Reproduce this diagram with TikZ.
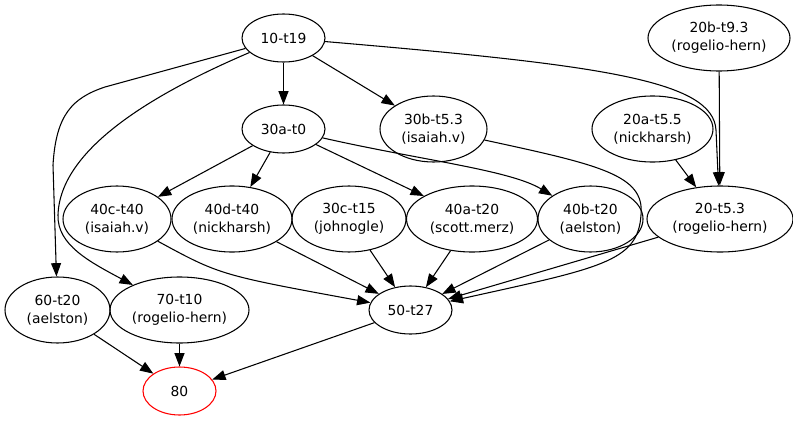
\documentclass[tikz,border=0pt]{standalone}
\usepackage{fontspec}
\setmainfont{DejaVu Sans}
\usetikzlibrary{shapes.geometric,arrows.meta}
\begin{document}
\begin{tikzpicture}[x=0.75pt,y=-0.75pt,
  every node/.style={font=\fontsize{10.4}{13.5}\selectfont},
  job/.style 2 args={ellipse,draw,line width=0.8pt,inner sep=0pt,align=center,
    minimum width=#1*0.75pt,minimum height=#2*0.75pt},
  link/.style={line width=0.8pt,-{Triangle[length=10pt,width=7.5pt]}}]
\useasboundingbox (0,0) rectangle (793,421);

% jobs
\node[job={83}{48}]   (n10)  at (283.5,38)  {10-t19};
\node[job={142}{66}]  (n20b) at (719,38)    {20b-t9.3\\(rogelio-hern)};
\node[job={83}{48}]   (n30a) at (283.5,129) {30a-t0};
\node[job={107}{66}]  (n30b) at (433.5,129) {30b-t5.3\\(isaiah.v)};
\node[job={121}{66}]  (n20a) at (652.5,129) {20a-t5.5\\(nickharsh)};
\node[job={108}{66}]  (n40c) at (117,219)   {40c-t40\\(isaiah.v)};
\node[job={120}{66}]  (n40d) at (232,219)   {40d-t40\\(nickharsh)};
\node[job={114}{66}]  (n30c) at (349,219)   {30c-t15\\(johnogle)};
\node[job={131}{66}]  (n40a) at (472,219)   {40a-t20\\(scott.merz)};
\node[job={105}{66}]  (n40b) at (590.5,219) {40b-t20\\(aelston)};
\node[job={146}{66}]  (n20)  at (720,219)   {20-t5.3\\(rogelio-hern)};
\node[job={105}{66}]  (n60)  at (57.5,310)  {60-t20\\(aelston)};
\node[job={139}{66}]  (n70)  at (179.5,310) {70-t10\\(rogelio-hern)};
\node[job={83}{48}]   (n50)  at (410.5,310) {50-t27};
\node[job={73}{48},draw=red] (n80) at (179.5,391) {80};

% dependencies
\draw[link] (n10) -- (n30a);
\draw[link] (n10) -- (n30b);
\draw[link] (n10) .. controls (600,65) and (713,80) .. (716,130) -- (n20);
\draw[link] (n10) -- (105,87) .. controls (72,98) and (56,115) .. (53,165) -- (n60);
\draw[link] (n10) .. controls (150,95) and (60,150) .. (58,215) .. controls (57,245) and (90,262) .. (n70);
\draw[link] (n20b) -- (n20);
\draw[link] (n20a) -- (n20);
\draw[link] (n30a) -- (n40c);
\draw[link] (n30a) -- (n40d);
\draw[link] (n30a) -- (n40a);
\draw[link] (n30a) .. controls (420,160) and (510,170) .. (n40b);
\draw[link] (n30b) .. controls (600,165) and (645,175) .. (641,215) .. controls (638,262) and (600,268) .. (n50);
\draw[link] (n40c) .. controls (220,275) .. (n50);
\draw[link] (n40d) -- (n50);
\draw[link] (n30c) -- (n50);
\draw[link] (n40a) -- (n50);
\draw[link] (n40b) -- (n50);
\draw[link] (n20) -- (n50);
\draw[link] (n60) -- (n80);
\draw[link] (n70) -- (n80);
\draw[link] (n50) -- (n80);
\end{tikzpicture}
\end{document}
